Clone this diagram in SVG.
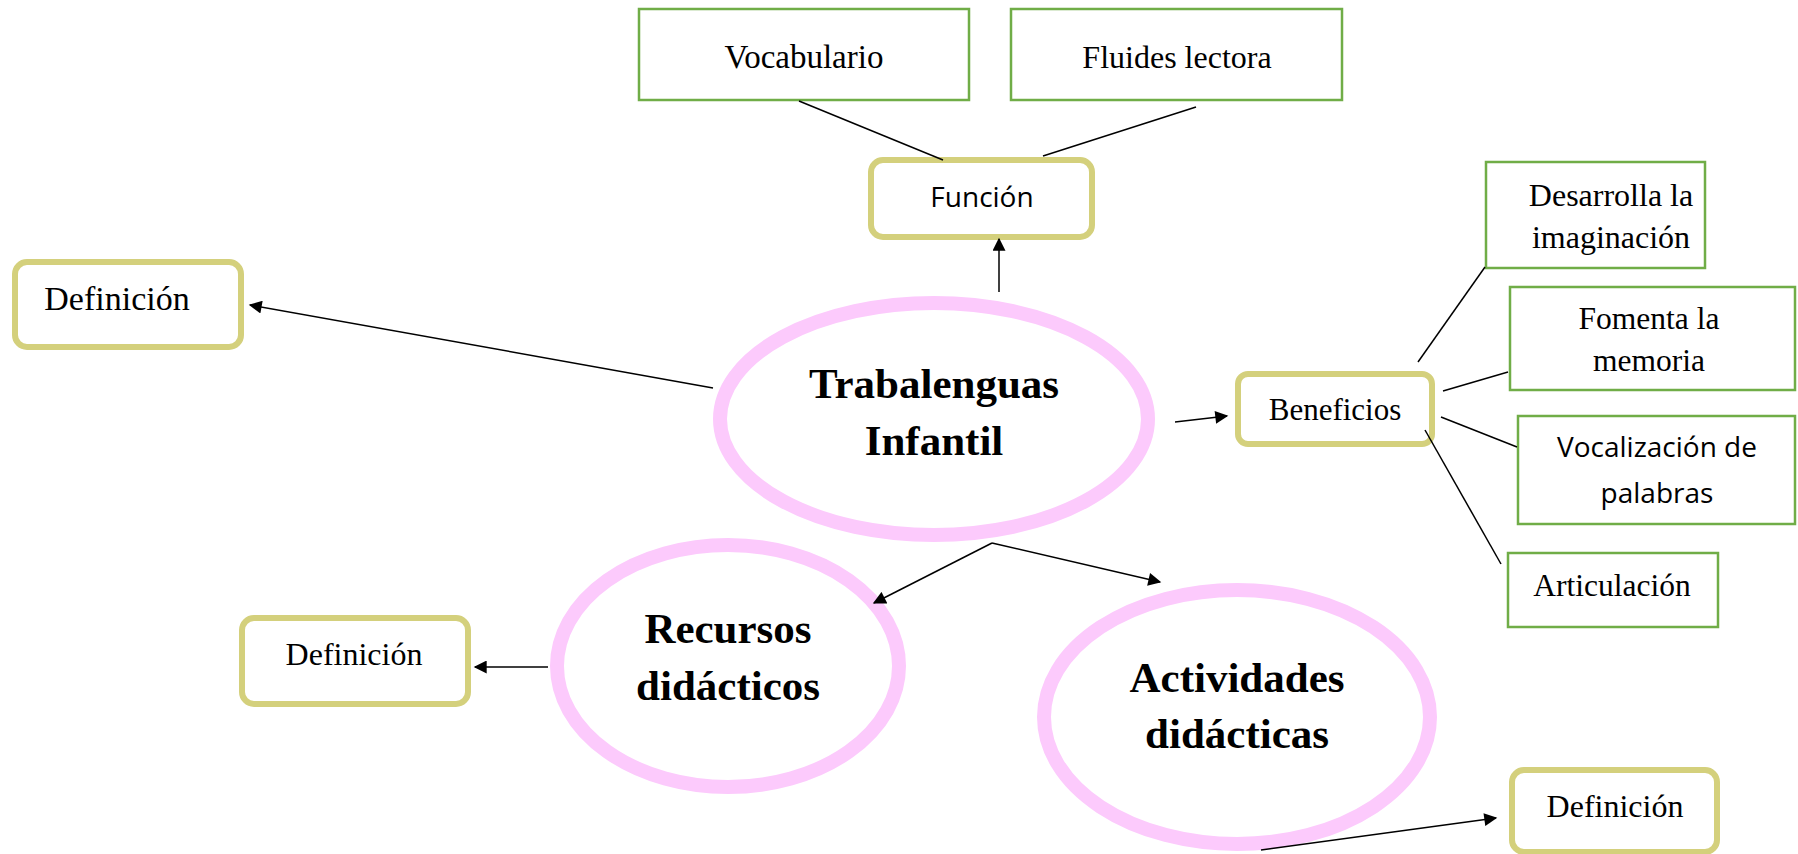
<svg xmlns="http://www.w3.org/2000/svg" width="1798" height="854" viewBox="0 0 1798 854">
<defs>
<marker id="ah" viewBox="0 0 10 10" refX="9" refY="5" markerWidth="15" markerHeight="13" markerUnits="userSpaceOnUse" orient="auto"><path d="M0,0 L10,5 L0,10 z" fill="#000"/></marker>
<style>
.g{fill:#fff;stroke:#70ad47;stroke-width:2.5}
.o{fill:#fff;stroke:#d4d07c;stroke-width:6}
.e{fill:#fff;stroke:#fccafc;stroke-width:14}
.t{font-family:"Liberation Serif",serif;font-size:32px;fill:#000;text-anchor:middle}
.s{font-family:"Open Sans","Noto Sans",sans-serif;font-size:28px;fill:#000;text-anchor:middle}
.b{font-family:"Liberation Serif",serif;font-size:43px;font-weight:bold;fill:#000;text-anchor:middle}
.l{stroke:#000;stroke-width:1.5;fill:none}
.a{stroke:#000;stroke-width:1.5;fill:none;marker-end:url(#ah)}
</style>
</defs>
<rect width="1798" height="854" fill="#fff"/>
<g id="vocabulario"><rect class="g" x="639" y="9" width="330" height="91"/><text class="t" x="804" y="68" style="font-size:33px">Vocabulario</text></g>
<g id="fluides"><rect class="g" x="1011" y="9" width="331" height="91"/><text class="t" x="1177" y="68">Fluides lectora</text></g>
<g id="funcion"><rect class="o" x="871" y="160" width="221" height="77" rx="12"/><text class="s" x="982" y="207">Función</text></g>
<g id="definicion1"><rect class="o" x="15" y="262" width="226" height="85" rx="12"/><text class="t" x="117" y="310" style="font-size:34px">Definición</text></g>
<g id="trabalenguas"><ellipse class="e" cx="934" cy="419" rx="214" ry="116"/><text class="b" x="934" y="398">Trabalenguas</text><text class="b" x="934" y="455">Infantil</text></g>
<g id="beneficios"><rect class="o" x="1238" y="374" width="194" height="70" rx="10"/><text class="t" x="1335" y="420" style="font-size:31px">Beneficios</text></g>
<g id="desarrolla"><rect class="g" x="1486" y="162" width="219" height="106"/><text class="t" x="1611" y="206">Desarrolla la</text><text class="t" x="1611" y="248">imaginación</text></g>
<g id="fomenta"><rect class="g" x="1510" y="287" width="285" height="103"/><text class="t" x="1649" y="329" style="font-size:31.5px">Fomenta la</text><text class="t" x="1649" y="371" style="font-size:31.5px">memoria</text></g>
<g id="vocalizacion"><rect class="g" x="1518" y="416" width="277" height="108"/><text class="s" x="1657" y="457">Vocalización de</text><text class="s" x="1657" y="503">palabras</text></g>
<g id="articulacion"><rect class="g" x="1508" y="553" width="210" height="74"/><text class="t" x="1612" y="596" style="font-size:31.5px">Articulación</text></g>
<g id="recursos"><ellipse class="e" cx="728" cy="666" rx="171" ry="121"/><text class="b" x="728" y="643">Recursos</text><text class="b" x="728" y="700">didácticos</text></g>
<g id="definicion2"><rect class="o" x="242" y="618" width="226" height="86" rx="12"/><text class="t" x="354" y="665">Definición</text></g>
<g id="actividades"><ellipse class="e" cx="1237" cy="717" rx="193" ry="127"/><text class="b" x="1237" y="692">Actividades</text><text class="b" x="1237" y="748">didácticas</text></g>
<g id="definicion3"><rect class="o" x="1512" y="770" width="205" height="82" rx="12"/><text class="t" x="1615" y="817">Definición</text></g>
<g id="connectors">
<line class="l" x1="799" y1="101" x2="943" y2="160"/>
<line class="l" x1="1196" y1="107" x2="1043" y2="156"/>
<line class="a" x1="999" y1="292" x2="999" y2="239"/>
<line class="a" x1="713" y1="388" x2="250" y2="305"/>
<line class="a" x1="1175" y1="422" x2="1227" y2="416"/>
<line class="l" x1="1418" y1="362" x2="1485" y2="267"/>
<line class="l" x1="1443" y1="391" x2="1508" y2="372"/>
<line class="l" x1="1441" y1="417" x2="1517" y2="447"/>
<line class="l" x1="1425" y1="430" x2="1501" y2="564"/>
<line class="a" x1="992" y1="543" x2="874" y2="603"/>
<line class="a" x1="992" y1="543" x2="1160" y2="582"/>
<line class="a" x1="548" y1="667" x2="475" y2="667"/>
<line class="a" x1="1261" y1="850" x2="1496" y2="818"/>
</g>
</svg>
